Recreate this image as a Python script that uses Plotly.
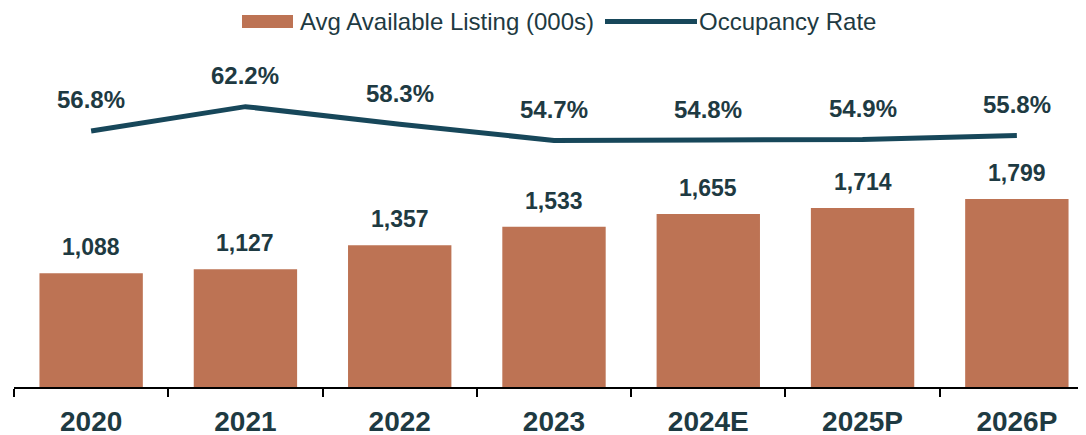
import plotly.graph_objects as go

years = ["2020", "2021", "2022", "2023", "2024E", "2025P", "2026P"]
listings = [1088, 1127, 1357, 1533, 1655, 1714, 1799]
occupancy = [56.8, 62.2, 58.3, 54.7, 54.8, 54.9, 55.8]

BAR_COLOR = "#BD7354"
LINE_COLOR = "#17475A"
TEXT_COLOR = "#1E3A42"
FONT = "Liberation Sans, Arial, sans-serif"

fig = go.Figure()

fig.add_trace(
    go.Bar(
        x=years, y=listings,
        name="Avg Available Listing (000s)",
        marker=dict(color=BAR_COLOR, line=dict(width=0)),
        hoverinfo="skip",
    )
)
fig.add_trace(
    go.Scatter(
        x=years, y=occupancy,
        name="Occupancy Rate",
        mode="lines",
        line=dict(color=LINE_COLOR, width=5),
        yaxis="y2",
        hoverinfo="skip",
    )
)

# value labels (category index, since "2020" etc. would be read as numbers)
for i, v in enumerate(listings):
    fig.add_annotation(
        x=i, y=v, xref="x", yref="y",
        text=f"<b>{v:,}</b>",
        showarrow=False, yanchor="middle", yshift=26,
        font=dict(size=23, color=TEXT_COLOR, family=FONT),
    )
for i, v in enumerate(occupancy):
    fig.add_annotation(
        x=i, y=v, xref="x", yref="y2",
        text=f"<b>{v:.1f}%</b>",
        showarrow=False, yanchor="middle", yshift=31,
        font=dict(size=24, color=TEXT_COLOR, family=FONT),
    )

# custom legend; the page body adds an 8px offset, so the plot spans
# window x 14..1094 and y 60..387
def px_x(x):
    return (x - 14) / 1080


def px_y(y):
    return (387 - y) / 327


fig.add_shape(
    type="rect", xref="paper", yref="paper",
    x0=px_x(242), x1=px_x(293), y0=px_y(28), y1=px_y(15),
    fillcolor=BAR_COLOR, line=dict(width=0),
)
fig.add_annotation(
    x=px_x(298), y=px_y(21.5), xref="paper", yref="paper",
    text="Avg Available Listing (000s)", showarrow=False,
    xanchor="left", yanchor="middle",
    font=dict(size=24, color=TEXT_COLOR, family=FONT),
)
fig.add_shape(
    type="line", xref="paper", yref="paper",
    x0=px_x(605), x1=px_x(697), y0=px_y(21.5), y1=px_y(21.5),
    line=dict(color=LINE_COLOR, width=5),
)
fig.add_annotation(
    x=px_x(697), y=px_y(21.5), xref="paper", yref="paper",
    text="Occupancy Rate", showarrow=False,
    xanchor="left", yanchor="middle",
    font=dict(size=24, color=TEXT_COLOR, family=FONT),
)

fig.update_layout(
    width=1086, height=427,
    margin=dict(l=6, r=0, t=52, b=48),
    paper_bgcolor="white",
    plot_bgcolor="white",
    showlegend=False,
    bargap=0.33,
    font=dict(family=FONT, color=TEXT_COLOR),
    xaxis=dict(
        type="category",
        range=[-0.5, len(years) - 0.5],
        showline=True, linecolor="black", linewidth=1.5,
        ticks="outside", tickson="boundaries", ticklen=8, tickcolor="black",
        tickwidth=1.5,
        tickfont=dict(size=28, color=TEXT_COLOR, family=FONT),
        tickprefix="<b>", ticksuffix="</b>",
        ticklabelstandoff=9,
        tickangle=0, automargin=False,
        showgrid=False, zeroline=False,
    ),
    yaxis=dict(
        range=[0, 3129], visible=False, showgrid=False, zeroline=False,
    ),
    yaxis2=dict(
        range=[0, 72.55], overlaying="y", visible=False,
        showgrid=False, zeroline=False,
    ),
)

fig.write_html("out.html")
